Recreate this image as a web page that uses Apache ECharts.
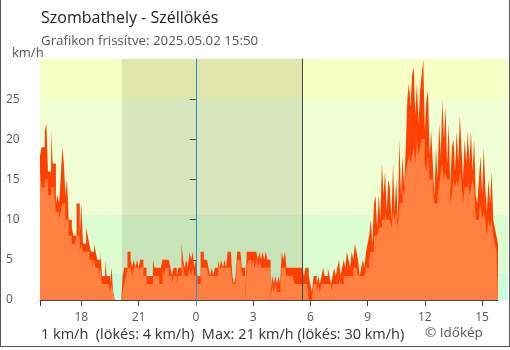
<!DOCTYPE html>
<html><head><meta charset="utf-8">
<script src="https://cdn.jsdelivr.net/npm/echarts@6/dist/echarts.min.js"></script>
<style>html,body{margin:0;padding:0;background:#fff}#c{width:510px;height:350px}</style>
</head><body><div id="c"></div>
<script>
const titleText = 'Szombathely - Széllökés';
const subtitleText = 'Grafikon frissítve: 2025.05.02 15:50';
const footerText = '1 km/h  (lökés: 4 km/h)  Max: 21 km/h (lökés: 30 km/h)';
const creditText = '© Időkép';
const unitText = 'km/h';

const startHour = -8 - 10 / 60;   // 15:50 previous day (hours relative to midnight)
const stepMinutes = 5;
const spanHours = 24;

const gust = [
18,19,19,21,22,16,16,21,17,17,
12,13,12,15,19,17,13,15,10,10,
9,8,8,12,12,8,12,7,7,9,
8,7,6,6,7,6,5,5,6,3,
3,5,3,3,2,4,1,0,0,0,
0,0,3,4,4,6,6,5,4,5,
4,5,4,5,5,4,4,3,3,3,
3,5,4,4,4,4,4,5,5,5,
5,5,4,3,4,4,3,4,4,7,
5,4,5,4,6,5,6,4,5,3,
3,6,6,5,5,5,4,3,4,3,
4,4,5,4,5,4,5,4,6,6,
6,3,2,3,6,6,6,4,4,1,
6,6,6,6,6,6,6,5,6,5,
6,5,6,5,5,1,3,2,3,2,
3,2,6,5,6,4,4,4,4,4,
4,4,4,4,4,4,3,4,4,3,
2,1,3,3,2,3,2,3,4,3,
3,4,3,2,3,4,3,4,5,3,
4,5,4,6,5,4,6,5,7,6,
5,3,4,5,4,6,7,8,10,7,
12,13,9,13,10,17,13,16,11,15,
14,10,17,11,15,10,20,13,18,14,
19,25,27,24,28,29,23,27,22,26,
28,30,21,25,26,18,21,17,13,19,
15,22,18,25,20,24,17,22,14,19,
20,16,21,17,23,19,15,20,17,21,
17,21,16,20,13,12,15,18,13,19,
14,11,15,12,16,10,9,8,7
];
const avg = [
16,14,14,15,15,13,13,14,14,13,
11,11,10,11,12,12,10,10,8,8,
7,7,7,8,8,6,7,6,6,6,
6,5,5,4,5,4,4,3,4,2,
2,2,2,2,1,2,1,0,0,0,
0,0,1,2,3,4,4,4,3,4,
4,4,4,4,4,3,3,2,2,2,
2,3,3,3,3,2,2,4,3,4,
4,3,3,2,3,3,2,3,3,5,
4,3,3,3,4,3,4,3,3,2,
2,4,4,4,4,4,3,3,3,3,
3,3,4,4,4,4,4,4,4,4,
4,2,2,2,5,5,5,3,3,0,
4,5,5,4,5,4,5,4,5,4,
4,4,4,4,4,0,2,1,2,1,
1,1,4,4,4,3,3,3,3,3,
2,2,2,2,2,2,2,2,2,0,
0,0,2,2,1,2,1,2,2,2,
2,2,2,1,2,2,2,2,3,2,
2,3,3,3,3,3,3,4,4,4,
3,3,3,3,3,4,4,5,6,6,
8,8,8,9,9,10,10,11,10,10,
10,9,11,10,11,9,12,12,14,13,
16,17,18,17,18,19,17,20,18,19,
20,20,17,16,18,15,15,14,12,12,
13,14,16,17,15,16,15,15,12,13,
15,14,15,14,16,15,12,14,14,15,
13,14,15,14,10,10,11,12,10,11,
10,8,10,9,10,8,7,6,6
];

const xTickHours = [-6, -3, 0, 3, 6, 9, 12, 15];
const yTicks = [0, 5, 10, 15, 20, 25];
const yMax = 30;
const bandEdges = [0, 3.4, 10.6, 25, 30];
const bandColors = ['#c9fcda', '#dbfdd0', '#effed3', '#f6ffc4'];
const nightStart = -3.87;   // 20:08
const nightEnd = 5.58;      // 05:35
const midnight = 0;

// layout
const plotLeft = 40, plotTop = 59, plotHeight = 241, plotWidth = 458, bgWidth = 468;
const bgMaxHour = startHour + bgWidth / (plotWidth / spanHours);

const toPairs = arr => arr.map((v, i) => [startHour + i * stepMinutes / 60, v]);

const chart = echarts.init(document.getElementById('c'));
const FONT = '"Open Sans", "Noto Sans", sans-serif';

const bandAreas = bandColors.map((c, k) => [
  { xAxis: startHour, yAxis: bandEdges[k], itemStyle: { color: c } },
  { xAxis: bgMaxHour, yAxis: bandEdges[k + 1] }
]);
bandAreas.push([
  { xAxis: nightStart, yAxis: 0, itemStyle: { color: 'rgba(40,40,0,0.11)' } },
  { xAxis: nightEnd, yAxis: yMax }
]);

chart.setOption({
  animation: false,
  textStyle: { fontFamily: FONT },
  grid: [
    { left: plotLeft, top: plotTop, width: plotWidth, height: plotHeight },
    { left: plotLeft, top: plotTop, width: bgWidth, height: plotHeight }
  ],
  xAxis: [
    {
      type: 'value', gridIndex: 0, min: startHour, max: startHour + spanHours, z: 1,
      axisLine: { lineStyle: { color: '#444', width: 1 } },
      axisTick: { customValues: [startHour].concat(xTickHours), length: 6, lineStyle: { color: '#444' } },
      axisLabel: {
        customValues: xTickHours, color: '#555', fontSize: 12, margin: 12, fontFamily: FONT,
        formatter: v => String(((Math.round(v) % 24) + 24) % 24)
      },
      splitLine: { show: false }
    },
    { type: 'value', gridIndex: 1, min: startHour, max: bgMaxHour, show: false }
  ],
  yAxis: [
    {
      type: 'value', gridIndex: 0, min: 0, max: yMax, z: 1,
      axisLine: { show: true, lineStyle: { color: '#444', width: 1 } },
      axisTick: { show: true, customValues: yTicks, length: 6, lineStyle: { color: '#444' } },
      axisLabel: { customValues: yTicks, align: 'left', margin: 34, color: '#555', fontSize: 12, fontFamily: FONT },
      splitLine: { show: false }
    },
    { type: 'value', gridIndex: 1, min: 0, max: yMax, show: false }
  ],
  series: [
    {
      name: 'bg', type: 'line', xAxisIndex: 1, yAxisIndex: 1, z: 0, silent: true,
      data: [[startHour, 0], [bgMaxHour, 0]], symbol: 'none',
      lineStyle: { opacity: 0 },
      markArea: { silent: true, data: bandAreas },
      markLine: {
        silent: true, symbol: 'none', label: { show: false },
        lineStyle: { type: 'solid', width: 1 },
        data: [
          { xAxis: midnight, lineStyle: { color: '#2b8cd8', type: 'solid', width: 1 } },
          { xAxis: nightEnd, lineStyle: { color: '#444', type: 'solid', width: 1 } }
        ]
      }
    },
    {
      name: 'Széllökés', type: 'line', xAxisIndex: 0, yAxisIndex: 0, z: 2,
      step: 'end', symbol: 'none', data: toPairs(gust),
      lineStyle: { width: 0, color: '#ff4000' },
      itemStyle: { color: '#ff4000' },
      areaStyle: { color: '#ff4000', opacity: 1 }
    },
    {
      name: 'Szél', type: 'line', xAxisIndex: 0, yAxisIndex: 0, z: 3,
      step: 'end', symbol: 'none', data: toPairs(avg),
      lineStyle: { width: 0, color: '#ff8040' },
      itemStyle: { color: '#ff8040' },
      areaStyle: { color: '#ff8040', opacity: 1 }
    }
  ],
  graphic: [
    { type: 'text', left: 41, top: 10, style: { text: titleText, fill: '#222', font: '16px ' + FONT } },
    { type: 'text', left: 41, top: 35, style: { text: subtitleText, fill: '#555', font: '13.3px ' + FONT } },
    { type: 'text', left: 12, top: 47, style: { text: unitText, fill: '#555', font: '13px ' + FONT } },
    { type: 'text', left: 41, top: 327, style: { text: footerText, fill: '#333', font: '14.5px ' + FONT } },
    { type: 'text', left: 425, top: 326, style: { text: creditText, fill: '#555', font: '13.5px ' + FONT } },
    { type: 'line', shape: { x1: 0.5, y1: 0, x2: 0.5, y2: 347 }, style: { stroke: '#555', lineWidth: 1 } },
    { type: 'line', shape: { x1: 509.5, y1: 0, x2: 509.5, y2: 347 }, style: { stroke: '#555', lineWidth: 1 } },
    { type: 'line', shape: { x1: 0, y1: 346.5, x2: 510, y2: 346.5 }, style: { stroke: '#555', lineWidth: 1 } }
  ]
});

const px0 = Math.round(chart.convertToPixel({ xAxisIndex: 0 }, midnight)) + 0.5;
const py0 = chart.convertToPixel({ yAxisIndex: 0 }, 0);
chart.setOption({
  graphic: [{ id: 'midTick', type: 'line', z: 10,
    shape: { x1: px0, y1: py0, x2: px0, y2: py0 + 6 },
    style: { stroke: '#2b8cd8', lineWidth: 1 } }]
});
</script></body></html>
